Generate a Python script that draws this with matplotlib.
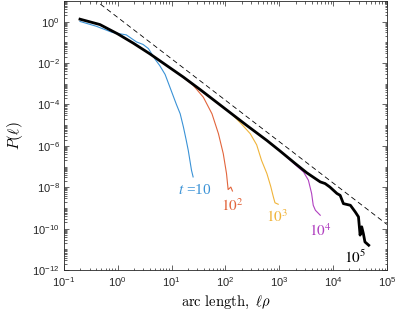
import matplotlib
matplotlib.use("Agg")
import matplotlib.pyplot as plt
from matplotlib.ticker import LogLocator, NullFormatter
import numpy as np

plt.rcParams['font.family'] = ['Liberation Sans', 'DejaVu Sans']
plt.rcParams['mathtext.fontset'] = 'cm'

# data, in log10 units (x = arc length, y = P)
black_lx = [-0.70, -0.33, 0.00, 0.29, 0.60, 0.91, 1.22, 1.53, 1.78, 2.15, 2.40, 2.77, 3.01,
            3.29, 3.51, 3.76, 3.85, 3.94, 4.07, 4.13, 4.19, 4.32, 4.41, 4.47, 4.50, 4.53,
            4.56, 4.59, 4.66]
black_ly = [0.12, -0.14, -0.59, -1.04, -1.56, -2.12, -2.68, -3.28, -3.78, -4.52, -5.02, -5.74, -6.24,
            -6.84, -7.30, -7.74, -7.82, -7.99, -8.30, -8.39, -8.79, -8.87, -9.19, -9.43, -10.31, -9.91,
            -10.23, -10.64, -10.80]

blue_lx = [-0.70, -0.40, -0.10, 0.16, 0.35, 0.47, 0.57, 0.69, 0.78, 0.88, 0.97, 1.09, 1.16,
           1.22, 1.27, 1.31, 1.34, 1.37, 1.40]
blue_ly = [0.01, -0.22, -0.52, -0.64, -0.98, -1.10, -1.30, -1.80, -2.12, -2.55, -3.17, -4.00, -4.45,
           -5.09, -5.70, -6.22, -6.70, -7.18, -7.50]

orange_lx = [1.22, 1.40, 1.59, 1.75, 1.87, 1.96, 1.98, 2.02, 2.05, 2.10, 2.13]
orange_ly = [-2.70, -3.07, -3.65, -4.45, -5.41, -6.38, -6.70, -7.34, -8.11, -7.99, -8.18]

yellow_lx = [2.15, 2.30, 2.46, 2.58, 2.67, 2.77, 2.84, 2.89, 2.92, 2.98]
yellow_ly = [-4.55, -4.95, -5.41, -5.95, -6.70, -7.34, -7.95, -8.47, -8.75, -8.82]

purple_lx = [3.10, 3.29, 3.45, 3.54, 3.60, 3.63, 3.67, 3.73, 3.76]
purple_ly = [-6.45, -6.90, -7.26, -7.66, -8.30, -8.87, -9.11, -9.27, -9.35]

guide_x = np.array([0.3, 1e5])
guide_c = 1.6   # P ~ 1.6 * l^-2

fig = plt.figure(figsize=(3.99, 3.2), dpi=100)
ax = fig.add_axes([0.160, 0.156, 0.810, 0.841])

c_blue = '#3a92d6'
c_orange = '#e2653c'
c_yellow = '#f0b43a'
c_purple = '#b040c0'

ax.plot(10**np.array(blue_lx), 10**np.array(blue_ly), color=c_blue, lw=0.8)
ax.plot(10**np.array(orange_lx), 10**np.array(orange_ly), color=c_orange, lw=0.8)
ax.plot(10**np.array(yellow_lx), 10**np.array(yellow_ly), color=c_yellow, lw=0.8)
ax.plot(10**np.array(purple_lx), 10**np.array(purple_ly), color=c_purple, lw=0.8)
ax.plot(10**np.array(black_lx), 10**np.array(black_ly), color='k', lw=2.0)
ax.plot(guide_x, guide_c * guide_x**-2.0, color='k', lw=0.6, dashes=(6, 4))

ax.set_xscale('log')
ax.set_yscale('log')
ax.set_xlim(1e-1, 1e5)
ax.set_ylim(1e-12, 1e1)

ax.xaxis.set_major_locator(LogLocator(base=10, numticks=20))
ax.xaxis.set_minor_locator(LogLocator(base=10, subs=np.arange(2, 10), numticks=20))
ax.xaxis.set_minor_formatter(NullFormatter())
ax.set_yticks([10.0**k for k in range(-12, 1, 2)])
ax.yaxis.set_minor_locator(LogLocator(base=10, subs=np.arange(1, 10), numticks=40))
ax.yaxis.set_minor_formatter(NullFormatter())

gray = '#262626'
for s in ax.spines.values():
    s.set_color(gray)
    s.set_linewidth(0.6)
ax.tick_params(which='both', direction='in', top=True, right=True, colors=gray,
               labelsize=8, width=0.5)
ax.tick_params(which='major', length=3.5, pad=4)
ax.tick_params(axis='y', which='major', pad=3)
ax.tick_params(which='minor', length=1.8)

ax.set_xlabel(r'$\mathrm{arc\ length,}\ \ell\rho$', fontsize=10.5, labelpad=3)
ax.set_ylabel(r'$P(\ell)$', fontsize=11, labelpad=5)

ax.text(10**1.435, 10**-8.14, r'$t$ =10', color=c_blue, fontsize=11, ha='center', va='center',
        math_fontfamily='stix', family='Liberation Serif')
ax.text(10**2.12, 10**-8.87, r'$10^2$', color=c_orange, fontsize=11, ha='center', va='center',
        math_fontfamily='stix')
ax.text(10**2.96, 10**-9.40, r'$10^3$', color=c_yellow, fontsize=11, ha='center', va='center',
        math_fontfamily='stix')
ax.text(10**3.76, 10**-10.12, r'$10^4$', color=c_purple, fontsize=11, ha='center', va='center',
        math_fontfamily='stix')
ax.text(10**4.41, 10**-11.37, r'$10^5$', color='k', fontsize=11, ha='center', va='center',
        math_fontfamily='stix')

fig.savefig('out.png', dpi=100)
